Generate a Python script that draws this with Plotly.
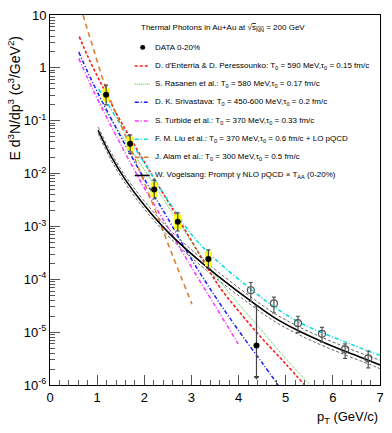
import plotly.graph_objects as go

# ---------------- data ----------------
pt_data = [1.19, 1.70, 2.21, 2.71, 3.36, 4.38]
y_data = [0.31, 0.0366, 0.0050, 0.00122, 2.43e-4, 5.6e-6]
stat_hi = [0.47, 0.054, 0.0075, 0.0018, 3.6e-4, 3.1e-5]
stat_lo = [0.20, 0.024, 0.0033, 0.00082, 1.6e-4, 1.4e-6]
pt_sys = [1.19, 1.70, 2.21, 2.71, 3.36]
y_sys = [0.31, 0.0366, 0.0050, 0.00122, 2.43e-4]
sys_hi = [0.41, 0.050, 0.0069, 0.0017, 3.35e-4]
sys_lo = [0.23, 0.027, 0.0036, 0.00088, 1.75e-4]

pt_open = [4.26, 4.75, 5.26, 5.77, 6.26, 6.75]
y_open = [6.2e-5, 3.5e-5, 1.48e-5, 9.3e-6, 4.7e-6, 3.2e-6]
open_hi = [8.7e-5, 4.6e-5, 2.0e-5, 1.23e-5, 6.0e-6, 4.4e-6]
open_lo = [3.8e-5, 2.3e-5, 9.8e-6, 6.5e-6, 3.2e-6, 2.1e-6]

# model curves: pT and log10(E d3N/dp3)
pt_red = [0.62, 0.8, 1.0, 1.2, 1.4, 1.7, 2.2, 2.7, 3.3, 3.6, 4.0, 4.5, 5.0, 5.4]
lg_red = [0.59, 0.22, -0.15, -0.50, -0.85, -1.32, -2.08, -2.82, -3.72, -4.15, -4.60, -5.12, -5.60, -6.0]

pt_green = [1.02, 1.2, 1.7, 2.2, 2.7, 3.3, 3.75, 4.5, 5.0, 5.52]
lg_green = [-0.61, -0.85, -1.52, -2.20, -2.88, -3.68, -4.20, -4.98, -5.50, -6.0]

pt_blue = [0.61, 0.8, 1.0, 1.5, 2.0, 2.5, 3.0, 3.5, 4.0, 4.5, 4.84]
lg_blue = [0.30, -0.08, -0.45, -1.30, -2.10, -2.85, -3.62, -4.32, -4.97, -5.58, -6.0]

pt_mag = [0.61, 0.8, 1.0, 1.5, 2.0, 2.5, 3.0, 3.5, 3.99]
lg_mag = [0.18, -0.20, -0.58, -1.45, -2.27, -3.02, -3.77, -4.50, -5.22]

pt_cyan = [1.03, 1.5, 2.0, 2.5, 3.0, 3.54, 4.24, 4.75, 5.37, 6.36, 7.0]
lg_cyan = [-0.40, -1.08, -1.80, -2.50, -3.15, -3.65, -4.17, -4.52, -4.85, -5.22, -5.44]

pt_orange = [0.70, 0.9, 1.2, 1.7, 2.2, 2.6, 3.01]
lg_orange = [1.0, 0.42, -0.42, -1.50, -2.62, -3.55, -4.47]

pt_pqcd = [1.02, 1.3, 1.6, 2.0, 2.55, 3.33, 4.24, 4.75, 5.26, 5.77, 6.26, 6.75, 7.0]
lg_pqcd = [-1.18, -1.68, -2.12, -2.60, -3.15, -3.77, -4.40, -4.72, -4.97, -5.18, -5.36, -5.53, -5.62]
lg_pqcd_up = [-1.12, -1.61, -2.05, -2.52, -3.07, -3.69, -4.32, -4.64, -4.89, -5.10, -5.28, -5.45, -5.53]
lg_pqcd_dn = [-1.24, -1.75, -2.19, -2.67, -3.22, -3.84, -4.47, -4.79, -5.04, -5.25, -5.43, -5.60, -5.69]

y_tickvals = [1e-6, 1e-5, 1e-4, 1e-3, 1e-2, 1e-1, 1, 10]
y_ticktext = ["10<sup>-6</sup>", "10<sup>-5</sup>", "10<sup>-4</sup>", "10<sup>-3</sup>",
              "10<sup>-2</sup>", "10<sup>-1</sup>", "1", "10"]

legend_title = "Thermal Photons in Au+Au at √<span style='text-decoration:overline'>s<sub>NN</sub></span> = 200 GeV"
legend_labels = [
    "DATA 0-20%",
    "D. d'Enterria & D. Peressounko: T<sub>0</sub> = 590 MeV,τ<sub>0</sub> = 0.15 fm/c",
    "S. Rasanen et al.: T<sub>0</sub> = 580 MeV,τ<sub>0</sub> = 0.17 fm/c",
    "D. K. Srivastava: T<sub>0</sub> = 450-600 MeV,τ<sub>0</sub> = 0.2 fm/c",
    "S. Turbide et al.: T<sub>0</sub> = 370 MeV,τ<sub>0</sub> = 0.33 fm/c",
    "F. M. Liu et al.: T<sub>0</sub> = 370 MeV,τ<sub>0</sub> = 0.6 fm/c + LO pQCD",
    "J. Alam et al.: T<sub>0</sub> = 300 MeV,τ<sub>0</sub> = 0.5 fm/c",
    "W. Vogelsang: Prompt γ NLO pQCD × T<sub>AA</sub> (0-20%)",
]

# ---------------- styles ----------------
FONT = "Liberation Sans, Arial, sans-serif"
styles = {
    "red": dict(color="#ff1a1a", width=1.6, dash="3px,2px"),
    "green": dict(color="#33cc33", width=1.0, dash="1px,1px"),
    "blue": dict(color="#1a1aff", width=1.5, dash="4px,2px,1px,2px"),
    "mag": dict(color="#ff33ff", width=1.5, dash="4px,2px,1px,2px"),
    "cyan": dict(color="#00dddd", width=1.5, dash="4px,2px,1px,2px"),
    "orange": dict(color="#d9822b", width=1.6, dash="5px,4px"),
    "black": dict(color="black", width=1.6),
    "gray": dict(color="#666666", width=1.0, dash="3px,2px"),
}

def pw(v):
    return [10 ** x for x in v]

fig = go.Figure()

curves = [
    (pt_red, lg_red, "red"),
    (pt_green, lg_green, "green"),
    (pt_blue, lg_blue, "blue"),
    (pt_mag, lg_mag, "mag"),
    (pt_cyan, lg_cyan, "cyan"),
    (pt_orange, lg_orange, "orange"),
    (pt_pqcd, lg_pqcd_up, "gray"),
    (pt_pqcd, lg_pqcd_dn, "gray"),
    (pt_pqcd, lg_pqcd, "black"),
]
for xs, ls, st in curves:
    fig.add_trace(go.Scatter(x=xs, y=pw(ls), mode="lines", line=dict(shape="spline", **styles[st]),
                             showlegend=False, hoverinfo="skip"))

# systematic boxes (yellow)
fig.add_trace(go.Scatter(
    x=pt_sys, y=y_sys, mode="markers", marker=dict(size=1, color="rgba(0,0,0,0)"),
    error_y=dict(type="data", symmetric=False,
                 array=[h - y for h, y in zip(sys_hi, y_sys)],
                 arrayminus=[y - l for l, y in zip(sys_lo, y_sys)],
                 color="#ffff00", thickness=7, width=0),
    showlegend=False, hoverinfo="skip"))

# open points
fig.add_trace(go.Scatter(
    x=pt_open, y=y_open, mode="markers",
    marker=dict(symbol="circle-open", size=7, color="#555555", line=dict(width=1.2, color="#555555")),
    error_y=dict(type="data", symmetric=False,
                 array=[h - y for h, y in zip(open_hi, y_open)],
                 arrayminus=[y - l for l, y in zip(open_lo, y_open)],
                 color="#555555", thickness=1.2, width=2),
    showlegend=False))

# filled points
fig.add_trace(go.Scatter(
    x=pt_data, y=y_data, mode="markers",
    marker=dict(symbol="circle", size=6, color="black"),
    error_y=dict(type="data", symmetric=False,
                 array=[h - y for h, y in zip(stat_hi, y_data)],
                 arrayminus=[y - l for l, y in zip(stat_lo, y_data)],
                 color="#444444", thickness=1.2, width=2),
    showlegend=False))

# arrow at the bottom of the last filled point
fig.add_trace(go.Scatter(
    x=pt_data[-1:], y=stat_lo[-1:], mode="markers",
    marker=dict(symbol="triangle-down", size=5, color="#444444"),
    showlegend=False, hoverinfo="skip"))

# ---------------- layout geometry ----------------
X0, X1, Y0, Y1 = 50, 381, 8, 385
W, H = 392, 433

def px(x):
    return (x - X0) / (X1 - X0)

def py(y):
    return 1 - (y - Y0) / (Y1 - Y0)

annotations = []
shapes = []

annotations.append(dict(x=px(139), y=py(21), xref="paper", yref="paper", text=legend_title,
                        showarrow=False, xanchor="left", yanchor="middle",
                        font=dict(family=FONT, size=8, color="black")))
row_y = [41, 60, 78.5, 97, 116, 134.5, 153, 171.5]
for i, (lab, yy) in enumerate(zip(legend_labels, row_y)):
    annotations.append(dict(x=px(153), y=py(yy), xref="paper", yref="paper", text=lab,
                            showarrow=False, xanchor="left", yanchor="middle",
                            font=dict(family=FONT, size=8, color="black")))

legend_styles = ["red", "green", "blue", "mag", "cyan", "orange", "black"]
for st, yy in zip(legend_styles, row_y[1:]):
    ls = dict(styles[st])
    shapes.append(dict(type="line", xref="paper", yref="paper", x0=px(135), x1=px(150),
                       y0=py(yy), y1=py(yy), line=ls))

# legend marker for DATA
shapes.append(dict(type="circle", xref="paper", yref="paper",
                   x0=px(140.5), x1=px(145.5), y0=py(43.5), y1=py(38.5),
                   fillcolor="black", line=dict(color="black", width=0)))

# axis titles
annotations.append(dict(x=px(14), y=py(93), xref="paper", yref="paper",
                        text="E d<sup>3</sup>N/dp<sup>3</sup> (c<sup>3</sup>/GeV<sup>2</sup>)",
                        textangle=-90, showarrow=False, xanchor="center", yanchor="middle",
                        font=dict(family=FONT, size=14, color="black")))
annotations.append(dict(x=1.0, y=py(418), xref="paper", yref="paper",
                        text="p<sub>T</sub> (GeV/c)", showarrow=False,
                        xanchor="right", yanchor="middle",
                        font=dict(family=FONT, size=13, color="black")))

fig.update_layout(
    width=W, height=H,
    margin=dict(l=X0, r=W - X1, t=Y0, b=H - Y1),
    paper_bgcolor="white", plot_bgcolor="white",
    font=dict(family=FONT, size=13, color="black"),
    xaxis=dict(range=[0, 7], dtick=1, ticks="inside", ticklen=10, tickcolor="#555555",
               showline=True, linecolor="black", linewidth=1, mirror=True,
               showgrid=False, zeroline=False,
               minor=dict(dtick=0.2, ticks="inside", ticklen=5, tickcolor="#555555", showgrid=False),
               tickfont=dict(family=FONT, size=13)),
    yaxis=dict(type="log", range=[-6, 1], tickvals=y_tickvals, ticktext=y_ticktext,
               ticks="inside", ticklen=10, tickcolor="#555555",
               showline=True, linecolor="black", linewidth=1, mirror=True,
               showgrid=False, zeroline=False,
               minor=dict(dtick="D1", ticks="inside", ticklen=5, tickcolor="#555555", showgrid=False),
               tickfont=dict(family=FONT, size=13)),
    annotations=annotations,
    shapes=shapes,
)

fig.write_html("out.html", config={"displayModeBar": False, "staticPlot": True},
               post_script="document.body.style.margin='0';document.body.style.overflow='hidden';")
